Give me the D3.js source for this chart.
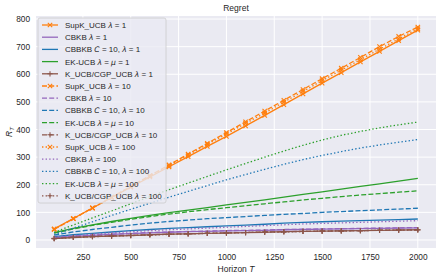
<!DOCTYPE html>
<html><head><meta charset="utf-8">
<script src="https://cdn.jsdelivr.net/npm/d3@7"></script>
<style>
body{margin:0;background:#fff}
svg{display:block}
text{font-family:"Liberation Sans",Arial,Helvetica,sans-serif;fill:#262626}
</style>
</head><body>
<svg id="c" width="442" height="280"></svg>
<script>
// ---------- data ----------
const horizons = [100,200,300,400,500,600,700,800,900,1000,1100,1200,1300,1400,1500,1600,1700,1800,1900,2000];
const xTicks = [250,500,750,1000,1250,1500,1750,2000];
const yTicks = [0,100,200,300,400,500,600,700,800];

const supk1   = [40,78,116,154,191,228,265,302,339,375,413,451,490,529,568,606,645,683,722,760];
const cbkb1   = [8,13,17,20,23,26,28,30,31,33,34,35,37,38,39,40,41,42,43,44];
const cbbkb1  = [12,19,24,29,34,38,42,45,48,51,54,57,61,64,66,68,70,72,74,76];
const ek1     = [27,42,55,67,78,89,99,108,117,127,136,145,155,165,174,184,194,203,213,223];
const kucb1   = [5,9,12,14,16,19,21,22,24,25,27,28,30,31,32,33,34,35,36,37];

const supk10  = [38,77,116,155,194,233,272,311,350,389,428,467,506,545,584,622,661,700,737,771];
const cbkb10  = [9,14,18,21,24,27,29,31,32,34,35,36,38,39,40,41,42,43,44,45];
const cbbkb10 = [18,29,38,46,54,61,67,72,77,81,85,89,93,96,100,103,106,109,112,115];
const ek10    = [25,40,53,64,75,85,94,102,110,117,124,131,138,145,151,157,163,168,173,178];
const kucb10  = [6,10,13,15,17,19,21,23,24,26,27,29,30,31,32,33,34,35,36,37];

const supk100 = [39,77,115,154,193,232,270,308,346,384,422,460,499,538,577,615,653,691,728,765];
const cbkb100 = [10,16,21,26,30,34,37,40,43,46,49,52,55,58,60,62,64,66,68,70];
const cbbkb100= [20,43,66,89,111,133,155,176,197,218,237,256,274,291,306,320,333,344,354,364];
const ek100   = [28,54,80,105,131,157,182,206,230,254,277,300,322,343,362,379,393,406,417,427];
const kucb100 = [5,9,12,14,16,18,20,22,24,25,27,28,29,31,32,33,34,35,36,36];

// ---------- series config ----------
const C = {orange:"#ff7f0e", purple:"#9467bd", blue:"#1f77b4", green:"#2ca02c", brown:"#8c564b"};
const DASH = {solid:null, dashed:"5,2.2", dotted:"1.4,2.2"};
function lab(name, lam, extra){
  if (extra==="C") return [[name+" ",0],["C",1],[" = 10, ",0],["λ",1],[" = "+lam,0]];
  if (extra==="mu") return [[name+" ",0],["λ",1],[" = ",0],["μ",1],[" = "+lam,0]];
  return [[name+" ",0],["λ",1],[" = "+lam,0]];
}
const series = [
  {v:supk1,  c:C.orange, d:"solid",  m:"x", l:lab("SupK_UCB",1)},
  {v:cbkb1,  c:C.purple, d:"solid",  m:null,l:lab("CBKB",1)},
  {v:cbbkb1, c:C.blue,   d:"solid",  m:null,l:lab("CBBKB",1,"C")},
  {v:ek1,    c:C.green,  d:"solid",  m:null,l:lab("EK-UCB",1,"mu")},
  {v:kucb1,  c:C.brown,  d:"solid",  m:"+", l:lab("K_UCB/CGP_UCB",1)},
  {v:supk10, c:C.orange, d:"dashed", m:"x", l:lab("SupK_UCB",10)},
  {v:cbkb10, c:C.purple, d:"dashed", m:null,l:lab("CBKB",10)},
  {v:cbbkb10,c:C.blue,   d:"dashed", m:null,l:lab("CBBKB",10,"C")},
  {v:ek10,   c:C.green,  d:"dashed", m:null,l:lab("EK-UCB",10,"mu")},
  {v:kucb10, c:C.brown,  d:"dashed", m:"+", l:lab("K_UCB/CGP_UCB",10)},
  {v:supk100,c:C.orange, d:"dotted", m:"x", l:lab("SupK_UCB",100)},
  {v:cbkb100,c:C.purple, d:"dotted", m:null,l:lab("CBKB",100)},
  {v:cbbkb100,c:C.blue,  d:"dotted", m:null,l:lab("CBBKB",100,"C")},
  {v:ek100,  c:C.green,  d:"dotted", m:null,l:lab("EK-UCB",100,"mu")},
  {v:kucb100,c:C.brown,  d:"dotted", m:"+", l:lab("K_UCB/CGP_UCB",100)}
];

// ---------- layout ----------
const svg = d3.select("#c");
const L=36, R=436, Tp=16, B=248;
const x = d3.scaleLinear().domain([5,2095]).range([L,R]);
const y = d3.scaleLinear().domain([-29,811]).range([B,Tp]);

svg.append("rect").attr("x",L).attr("y",Tp).attr("width",R-L).attr("height",B-Tp).attr("fill","#eaeaf2");

// grid
const g = svg.append("g");
g.selectAll(".gx").data(xTicks).join("line")
  .attr("x1",d=>x(d)).attr("x2",d=>x(d)).attr("y1",Tp).attr("y2",B)
  .attr("stroke","#fff").attr("stroke-width",1);
g.selectAll(".gy").data(yTicks).join("line")
  .attr("y1",d=>y(d)).attr("y2",d=>y(d)).attr("x1",L).attr("x2",R)
  .attr("stroke","#fff").attr("stroke-width",1);

// axes (labels only)
const xa = svg.append("g").attr("transform",`translate(0,${B})`)
  .call(d3.axisBottom(x).tickValues(xTicks).tickFormat(d3.format("d")).tickSize(0).tickPadding(6));
const ya = svg.append("g").attr("transform",`translate(${L},0)`)
  .call(d3.axisLeft(y).tickValues(yTicks).tickFormat(d3.format("d")).tickSize(0).tickPadding(6));
[xa,ya].forEach(a=>{
  a.select(".domain").remove();
  a.selectAll("text").attr("font-size",8.3).attr("fill","#262626")
   .style("font-family",'"Liberation Sans",Arial,sans-serif');
});

// lines
const line = d3.line().x((d,i)=>x(horizons[i])).y(d=>y(d));
const plot = svg.append("g");
function marker(sel, type, cx, cy, color){
  const s = type==="x" ? 2.2 : 2.6;
  const p = type==="x"
    ? `M${cx-s},${cy-s}L${cx+s},${cy+s}M${cx-s},${cy+s}L${cx+s},${cy-s}`
    : `M${cx-s},${cy}L${cx+s},${cy}M${cx},${cy-s}L${cx},${cy+s}`;
  sel.append("path").attr("d",p).attr("stroke",color).attr("stroke-width",1.1).attr("fill","none");
}
series.forEach(s=>{
  plot.append("path").datum(s.v).attr("d",line).attr("fill","none")
    .attr("stroke",s.c).attr("stroke-width",1.3)
    .attr("stroke-dasharray",DASH[s.d]);
  if (s.m){
    s.v.forEach((v,i)=>marker(plot,s.m,x(horizons[i]),y(v),s.c));
  }
});

// title and axis labels
svg.append("text").attr("x",(L+R)/2).attr("y",11).attr("text-anchor","middle")
  .attr("font-size",8.5).text("Regret");
const xl = svg.append("text").attr("x",(L+R)/2).attr("y",272).attr("text-anchor","middle").attr("font-size",8.5);
xl.append("tspan").text("Horizon ");
xl.append("tspan").attr("font-style","italic").text("T");
const yl = svg.append("text").attr("transform",`translate(12,${(Tp+B)/2}) rotate(-90)`)
  .attr("text-anchor","middle").attr("font-size",8.5);
yl.append("tspan").attr("font-style","italic").text("R");
yl.append("tspan").attr("font-style","italic").attr("font-size",6).attr("dy",2).text("T");

// legend
const lg = svg.append("g");
const LX=38, LY=18, LW=128, LH=185, step=12.2;
lg.append("rect").attr("x",LX).attr("y",LY).attr("width",LW).attr("height",LH).attr("rx",2)
  .attr("fill","#eaeaf2").attr("fill-opacity",0.8).attr("stroke","#cccccc").attr("stroke-width",0.8);
series.forEach((s,i)=>{
  const cy = LY+7+i*step;
  lg.append("line").attr("x1",42).attr("x2",58).attr("y1",cy).attr("y2",cy)
    .attr("stroke",s.c).attr("stroke-width",1.3).attr("stroke-dasharray",DASH[s.d]);
  if (s.m) marker(lg,s.m,50,cy,s.c);
  const t = lg.append("text").attr("x",65).attr("y",cy+3).attr("font-size",8);
  s.l.forEach(([txt,it])=>{
    const sp=t.append("tspan").text(txt).attr("xml:space","preserve").style("white-space","pre");
    if(it) sp.attr("font-style","italic").style("font-family",'"DejaVu Sans",sans-serif').attr("font-size",7.6);
  });
});
</script>
</body></html>
